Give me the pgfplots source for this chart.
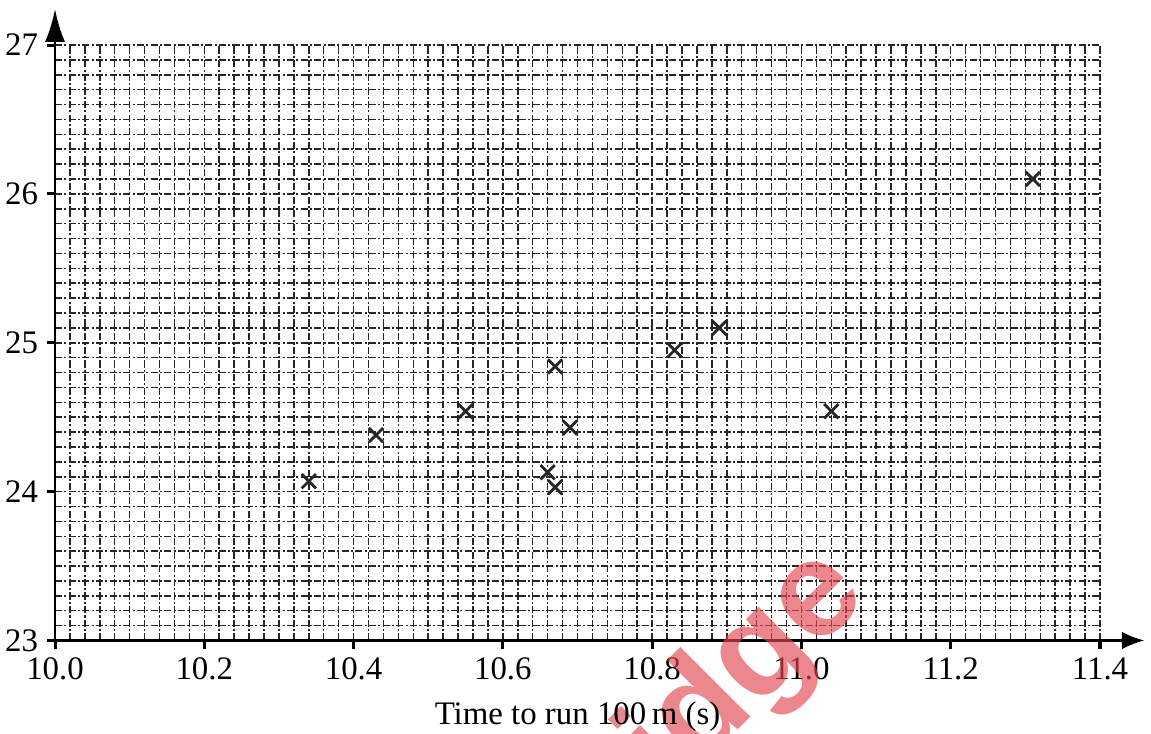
\documentclass[border=0pt]{standalone}
\usepackage{pgfplots}
\pgfplotsset{compat=1.18}
\usepackage{fontspec}
\setmainfont{Liberation Serif}
\setsansfont{Liberation Sans}
\usetikzlibrary{arrows.meta}
\definecolor{wmred}{RGB}{228,70,82}

\begin{document}
\begin{tikzpicture}
\begin{axis}[
  scale only axis,
  width=14.53cm, height=8.28cm,
  xmin=10, xmax=11.4, ymin=23, ymax=27,
  axis x line=bottom, axis y line=left,
  x axis line style={-{Latex[length=9pt,width=7pt]}, shorten >=-0.62cm, line width=1.1pt},
  y axis line style={-{Latex[length=13pt,width=8pt]}, shorten >=-0.5cm, line width=1.1pt},
  xtick distance=0.2,
  ytick distance=1,
  minor x tick num=9,
  minor y tick num=9,
  grid=both,
  major grid style={black!85, line width=0.6pt, dash pattern=on 2.8pt off 0.9pt on 0.8pt off 0.9pt},
  minor grid style={black!85, line width=0.6pt, dash pattern=on 2.8pt off 0.9pt on 0.8pt off 0.9pt},
  tick align=outside,
  major tick length=3.2pt,
  minor tick length=0pt,
  major tick style={black, line width=1.2pt},
  xticklabel style={/pgf/number format/.cd, fixed, fixed zerofill, precision=1},
  /pgf/number format/assume math mode=true,
  tick label style={font=\fontsize{13}{15}\selectfont},
  xlabel={Time to run 100\,m (s)},
  xlabel style={font=\fontsize{13}{15}\selectfont, at={(axis description cs:0.5,0)}, anchor=base, yshift=-1.17cm},
  clip=false,
]
\addplot[only marks, mark=x, mark size=4pt, mark options={line width=1.1pt, black!85}] coordinates {
  (10.34, 24.07)
  (10.43, 24.38)
  (10.55, 24.54)
  (10.66, 24.13)
  (10.67, 24.03)
  (10.67, 24.84)
  (10.69, 24.43)
  (10.83, 24.95)
  (10.89, 25.10)
  (11.04, 24.54)
  (11.31, 26.10)
};
\coordinate (O) at (rel axis cs:0,0);
\coordinate (T) at (rel axis cs:1,1);
\node[rotate=45, anchor=base east, text=wmred, opacity=0.65,
      font=\fontsize{54}{54}\selectfont\sffamily\bfseries]
      at (axis cs:11.10,23.33) {Cambridge};
\end{axis}
\pgfresetboundingbox
\path[use as bounding box] ([shift={(-0.765cm,-1.293cm)}]O) rectangle ([shift={(0.709cm,0.626cm)}]T);
\end{tikzpicture}
\end{document}
